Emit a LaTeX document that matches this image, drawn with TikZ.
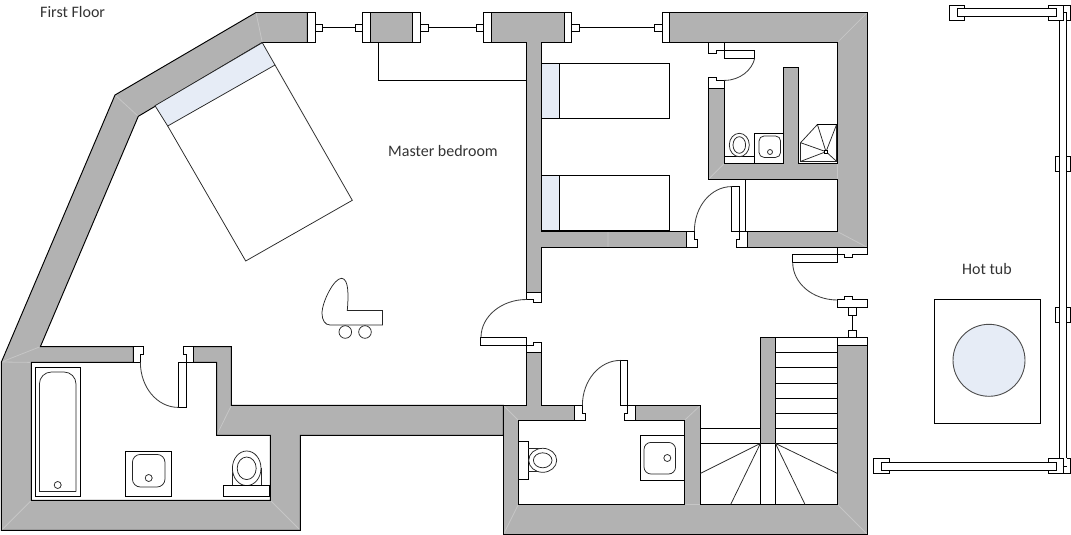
\documentclass[tikz,border=0pt]{standalone}
\usepackage{fontspec}
\setmainfont{Carlito}
\definecolor{wallgray}{HTML}{B2B2B2}
\definecolor{mitre}{HTML}{C6C6C6}
\definecolor{paleblue}{HTML}{E6ECF6}
\definecolor{labeltext}{HTML}{333333}
\tikzset{
  ln/.style={draw=black,line width=0.95pt,line join=miter},
  thin ln/.style={draw=black!85,line width=0.75pt},
  arc ln/.style={draw=black!75,line width=0.85pt},
  whitebox/.style={ln,fill=white},
  wallfill/.style={fill=wallgray},
  mitreln/.style={draw=mitre,line width=0.8pt},
  label/.style={font=\fontsize{16}{18}\selectfont,text=labeltext,inner sep=0pt}
}
\newcommand{\wallMain}{(307.4,12.5)--(256,12.5)--(115,95)--(1.4,362)--(1.4,530.4)--(300.4,530.4)--(300.4,435.4)--(503.4,435.4)--(503.4,405.4)--(231.4,405.4)--(231.4,346.6)--(193.4,346.6)--(193.4,362.4)--(216.6,362.4)--(216.6,435.4)--(270.4,435.4)--(270.4,500.4)--(31.4,500.4)--(31.4,362.4)--(133.4,362.4)--(133.4,346.6)--(40.4,346.6)--(138.3,116.3)--(262.3,42.5)--(307.4,42.5)--cycle}
\newcommand{\wallLow}{(503.4,405.4)--(526.6,405.4)--(526.6,352.4)--(541.6,352.4)--(541.6,405.4)--(574.4,405.4)--(574.4,420.4)--(518.4,420.4)--(518.4,504.4)--(684.4,504.4)--(684.4,420.4)--(635.6,420.4)--(635.6,405.4)--(700.4,405.4)--(700.4,504.4)--(837.4,504.4)--(837.4,345.4)--(867.4,345.4)--(867.4,534.4)--(503.4,534.4)--cycle}
\newcommand{\wallRight}{(669.4,12.5)--(867.4,12.5)--(867.4,247.4)--(747.4,247.4)--(747.4,231.6)--(837.4,231.6)--(837.4,179.4)--(708.4,179.4)--(708.4,88.4)--(724.4,88.4)--(724.4,163.4)--(783.4,163.4)--(783.4,67.4)--(798.6,67.4)--(798.6,163.4)--(837.4,163.4)--(837.4,42.5)--(669.4,42.5)--cycle}
\newcommand{\wallMid}{(491.4,12.5)--(564.4,12.5)--(564.4,42.5)--(541.6,42.5)--(541.6,231.6)--(686.4,231.6)--(686.4,247.4)--(541.6,247.4)--(541.6,292.6)--(526.6,292.6)--(526.6,42.5)--(491.4,42.5)--cycle}
\begin{document}
\begin{tikzpicture}[x=1pt,y=-1pt]
\useasboundingbox (0,0) rectangle (1071,535);
% wall fills and mitre joints
\fill[wallfill] \wallMain;
\fill[wallfill] \wallLow;
\fill[wallfill] \wallRight;
\fill[wallfill] \wallMid;
\path[mitreln] (256,12.5)--(262.3,42.5) (115,95)--(138.3,116.3) (1.4,362)--(40.4,346.6) (1.4,530.4)--(31.4,500.4)
  (300.4,530.4)--(270.4,500.4) (216.6,435.4)--(231.4,405.4) (503.4,405.4)--(518.4,420.4) (503.4,534.4)--(518.4,504.4)
  (867.4,534.4)--(837.4,504.4) (684.4,420.4)--(700.4,405.4) (684.4,504.4)--(700.4,504.4) (867.4,12.5)--(837.4,42.5)
  (867.4,247.4)--(837.4,231.6) (837.4,163.4)--(837.4,231.6) (708.4,179.4)--(724.4,163.4) (1.4,362)--(31.4,362.4)
  (608,231.6)--(608,247.4);
\draw[ln] \wallMain;
\draw[ln] \wallLow;
\draw[ln] \wallRight;
\draw[ln] \wallMid;
% window block with cords
\fill[wallfill] (370.4,12.5) rectangle (412.6,42.5);
\foreach \xa/\xb in {307.4/315.4,362.4/370.4,412.6/420.4,483.4/491.4,564.4/571.6,662.4/669.4}
  \draw[whitebox] (\xa,12.5) rectangle (\xb,42.5);
\draw[ln] (370.4,12.5)--(412.6,12.5) (370.4,42.5)--(412.6,42.5);
\foreach \xa/\xb in {315.4/322.6,355.4/362.4,420.4/428.4,476.4/483.4,571.6/579.4,654.4/662.4}
  \draw[whitebox] (\xa,24.4) rectangle (\xb,31.4);
\draw[ln] (322.6,27.5)--(355.4,27.5) (428.4,27.5)--(476.4,27.5) (579.4,27.5)--(654.4,27.5);
\draw[ln] (378.4,42.5)--(378.4,80.4)--(526.6,80.4);
% double bed
\draw[thin ln,fill=paleblue] (155,105.7)--(262.3,42.7)--(275,65)--(167.7,126)--cycle;
\draw[thin ln] (167.7,126)--(245.7,261)--(352.3,200.3)--(275,65);
% single beds
\foreach \t/\b in {63.5/118.5,175.5/230.5}{
  \draw[ln] (541.6,\t) rectangle (669.4,\b);
  \draw[ln,fill=paleblue] (541.6,\t) rectangle (559.6,\b);
}
\draw[line width=1.7pt] (541.6,63.5)--(559.6,63.5);
\draw[line width=1.7pt] (541.6,175.5)--(559.6,175.5);
% left door, main wall
\draw[whitebox] (526.6,292.6)--(541.6,292.6)--(541.6,302.4)--(533.4,302.4)--(533.4,299.4)--(526.6,299.4)--cycle;
\draw[whitebox] (480.4,337.4) rectangle (526.6,345.4);
\draw[whitebox] (526.6,345.4)--(533.4,345.4)--(533.4,342.4)--(541.6,342.4)--(541.6,352.4)--(526.6,352.4)--cycle;
\draw[arc ln] (481,337.4) .. controls (481,316.5) and (501.4,299.5) .. (526.6,299.5);
% WC door
\draw[whitebox] (574.4,405.4)--(582.4,405.4)--(582.4,413.4)--(585.6,413.4)--(585.6,420.4)--(574.4,420.4)--cycle;
\draw[whitebox] (620.4,360.4) rectangle (627.4,405.4);
\draw[whitebox] (627.4,405.4)--(635.6,405.4)--(635.6,420.4)--(624.4,420.4)--(624.4,413.4)--(627.4,413.4)--cycle;
\draw[arc ln] (582.4,405.4) .. controls (582.4,380.5) and (599.4,360.4) .. (620.4,360.4);
% WC toilet and basin
\draw[ln] (518.4,441.4) rectangle (528.4,479.4);
\draw[thin ln] (528.4,448.6)--(542,448.6) (528.4,471.6)--(542,471.6);
\draw[thin ln,fill=white] (542.7,460.3) ellipse [x radius=14,y radius=12];
\draw[thin ln] (542.7,460.3) ellipse [x radius=9.3,y radius=7.5];
\draw[ln] (640.4,435.4) rectangle (684.4,480.4);
\draw[thin ln,rounded corners=7pt] (644,442.4) rectangle (675.6,474);
\draw[thin ln] (667.3,458) circle [radius=3.5];
% stairs
\fill[wallfill] (760.4,337.4) rectangle (775.4,443.4);
\draw[ln] (760.4,337.4) rectangle (775.4,443.4);
\draw[ln] (775.4,337.4)--(837.4,337.4);
\foreach \y in {352.4,367.4,383.4,398.4,413.4,428.4,443.4}
  \draw[ln] (775.4,\y)--(837.4,\y);
\draw[ln] (700.4,428.4)--(760.4,428.4) (700.4,443.4)--(760.4,443.4);
\draw[ln] (760.4,443.4)--(760.4,504.4) (775.4,443.4)--(775.4,504.4);
\draw[thin ln] (760.4,443.4)--(700.4,473.4) (760.4,443.4)--(730.7,504.4)
  (775.4,443.4)--(837.4,473.4) (775.4,443.4)--(805,504.4);
\draw[line width=1.5pt] (837.4,345.4)--(837.4,504.4);
% entrance door and top right frame
\draw[whitebox] (837.4,337.4) rectangle (867.4,345.4);
\draw[whitebox] (848.4,330.4) rectangle (856.6,337.4);
\draw[ln] (852.6,315.6)--(852.6,330.4);
\draw[whitebox] (848.4,307.4) rectangle (856.6,315.6);
\draw[whitebox] (837.4,299.4)--(844.4,299.4)--(844.4,296.6)--(852.6,296.6)--(852.6,299.4)--(867.4,299.4)--(867.4,307.4)--(837.4,307.4)--cycle;
\draw[whitebox] (837.4,247.4)--(867.4,247.4)--(867.4,254.4)--(852.6,254.4)--(852.6,257.4)--(844.4,257.4)--(844.4,254.4)--(837.4,254.4)--cycle;
\draw[whitebox] (792.4,254.4) rectangle (837.4,262.4);
\draw[arc ln] (792.7,262.4) .. controls (792.7,283) and (812.5,300) .. (837.4,300);
% bedroom door
\draw[whitebox] (686.4,231.6)--(694.4,231.6)--(694.4,239.4)--(697.4,239.4)--(697.4,247.4)--(686.4,247.4)--cycle;
\draw[whitebox] (731.6,186.6) rectangle (739.4,231.6);
\draw[whitebox] (739.4,231.6)--(747.4,231.6)--(747.4,247.4)--(736.6,247.4)--(736.6,239.4)--(739.4,239.4)--cycle;
\draw[ln] (745.4,179.4)--(745.4,231.6);
\draw[arc ln] (694.4,231) .. controls (694.4,206.6) and (711,186.6) .. (731.6,186.6);
% en-suite door
\draw[whitebox] (708.4,42.5)--(724.4,42.5)--(724.4,50.4)--(716.6,50.4)--(716.6,53.4)--(708.4,53.4)--cycle;
\draw[whitebox] (724.4,50.4) rectangle (754.6,58.6);
\draw[whitebox] (708.4,88.4)--(724.4,88.4)--(724.4,80.4)--(716.6,80.4)--(716.6,77.4)--(708.4,77.4)--cycle;
\draw[arc ln] (754.6,58.6) .. controls (752,70) and (740,80.4) .. (724.4,80.4);
% en-suite toilet, basin, shower
\draw[ln] (724.4,156.4) rectangle (754.4,163.4);
\draw[thin ln,fill=white] (739.3,145) ellipse [x radius=10,y radius=11.7];
\draw[thin ln] (739.3,145) ellipse [x radius=6.3,y radius=8.3];
\draw[ln] (754.4,133.4) rectangle (783.4,163.4);
\draw[thin ln,rounded corners=5pt] (759,136) rectangle (780.6,157.4);
\draw[thin ln] (770,152) circle [radius=2.5];
\draw[thin ln] (817.4,124.5)--(836.6,124.5)--(836.6,161.4)--(800.6,161.4)--(800.6,142.7)--cycle;
\draw[thin ln] (817.4,124.5)--(826,151.7) (836.6,124.5)--(826,151.7) (836.6,161.4)--(826,151.7)
  (800.6,161.4)--(826,151.7) (800.6,142.7)--(826,151.7);
\draw[line width=1.7pt] (816.6,124.5)--(837,124.5);
\draw[ln,fill=white] (824.4,150.4) rectangle (827.6,153.4);
% bathroom door
\draw[whitebox] (133.4,346.6)--(143.6,346.6)--(143.6,354.4)--(140.4,354.4)--(140.4,362.4)--(133.4,362.4)--cycle;
\draw[whitebox] (183.4,346.6)--(193.4,346.6)--(193.4,362.4)--(186.6,362.4)--(186.6,354.4)--(183.4,354.4)--cycle;
\draw[whitebox] (178.4,362.4) rectangle (186.6,407.4);
\draw[arc ln] (140.4,362.4) .. controls (140.4,387) and (157,407.4) .. (178.4,407.4);
% bath
\draw[ln] (35.4,367.4) rectangle (80.6,496.6);
\draw[thin ln,rounded corners=12pt] (39.4,491.6)--(39.4,372)--(76,372)--(76,491.6);
\draw[thin ln] (39.4,491.6)--(76,491.6);
\draw[thin ln] (57.7,485) circle [radius=3.5];
% bath basin
\draw[ln] (125.4,451.4) rectangle (171.4,496.6);
\draw[thin ln,rounded corners=8pt] (132.4,454.4) rectangle (165,487);
\draw[thin ln] (148.7,478) circle [radius=3.5];
% bath toilet
\draw[thin ln] (232.4,468)--(232.4,485.4) (261,468)--(261,485.4);
\draw[thin ln,fill=white] (246.7,468.3) ellipse [x radius=14.3,y radius=17.3];
\draw[thin ln] (246.7,468.3) ellipse [x radius=9.5,y radius=11.3];
\draw[whitebox] (223.4,485.4) rectangle (269.4,496.6);
% cot
\draw[thin ln] (382.6,325)--(382.6,310.4)--(347.3,310.4) .. controls (348.5,296) and (349,279) .. (341.7,278.3)
  .. controls (334,278) and (322,302) .. (322,313.3) .. controls (322,320) and (325,325) .. (330,325)--cycle;
\draw[thin ln] (345.3,332) circle [radius=6.3] (365,332) circle [radius=6.3];
% hot tub
\draw[ln] (934.4,299.4) rectangle (1040.4,423.4);
\draw[draw=black!70,line width=0.9pt,fill=paleblue] (989,360.3) circle [radius=36];
% deck rails
\draw[ln] (957.4,8.4) rectangle (1056.6,16.6);
\draw[ln] (964.6,8.4)--(964.6,5.4)--(949.4,5.4)--(949.4,20.6)--(964.6,20.6)--(964.6,16.6);
\draw[ln] (1048.4,8.4)--(1048.4,5.4)--(1070.6,5.4)--(1070.6,20.6)--(1066.6,20.6);
\draw[ln] (1048.4,16.6)--(1048.4,20.6)--(1063.4,20.6)--(1063.4,5.4);
\draw[ln] (1063.4,12.4)--(1066.6,12.4)--(1066.6,458.4);
\draw[ln] (1059.4,20.6)--(1059.4,458.4);
\draw[ln] (1059.4,156.4)--(1055.4,156.4)--(1055.4,171.6)--(1059.4,171.6);
\draw[ln] (1066.6,156.4)--(1070.6,156.4)--(1070.6,171.6)--(1066.6,171.6);
\draw[ln] (1059.4,307.4)--(1055.4,307.4)--(1055.4,322.6)--(1059.4,322.6);
\draw[ln] (1066.6,307.4)--(1070.6,307.4)--(1070.6,322.6)--(1066.6,322.6);
\draw[ln] (881.4,462.4) rectangle (1056.6,470.4);
\draw[ln] (889.4,462.4)--(889.4,458.4)--(873.4,458.4)--(873.4,473.4)--(889.4,473.4)--(889.4,470.4);
\draw[ln] (1048.4,462.4)--(1048.4,458.4)--(1063.4,458.4)--(1063.4,473.4)--(1048.4,473.4)--(1048.4,470.4);
\draw[ln] (1066.6,458.4)--(1070.4,458.4)--(1070.4,473.4)--(1063.4,473.4);
\draw[ln] (1063.4,466.6)--(1066.6,466.6);
% labels
\node[label,anchor=west] (floorlabel) at (40,12.5) {First Floor};
\node[label,anchor=west] (bedroomlabel) at (388,151.5) {Master bedroom};
\node[label,anchor=center] (tublabel) at (987,269.5) {Hot tub};
\end{tikzpicture}
\end{document}
